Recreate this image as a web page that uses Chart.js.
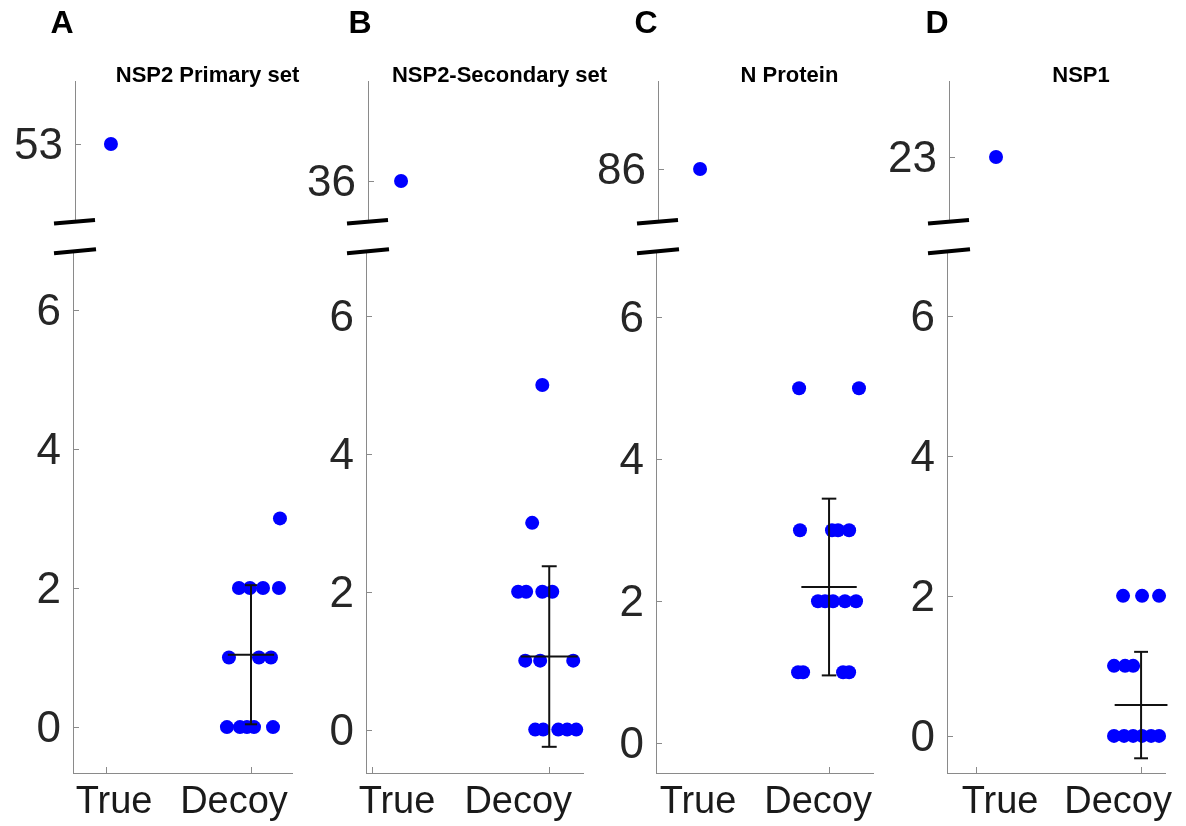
<!DOCTYPE html>
<html>
<head>
<meta charset="utf-8">
<script src="https://cdn.jsdelivr.net/npm/chart.js@4.4.1/dist/chart.umd.min.js"></script>
<style>
  html, body { margin: 0; padding: 0; background: #fff; }
  #wrap { position: relative; width: 1186px; height: 826px; overflow: hidden; background: #fff; }
  #wrap canvas { position: absolute; }
</style>
</head>
<body>
<div id="wrap"></div>
<script>
// ---------------- DATA ----------------
const categories = ['True', 'Decoy'];
const panelLetters = ['A', 'B', 'C', 'D'];
const panelTitles = ['NSP2 Primary set', 'NSP2-Secondary set', 'N Protein', 'NSP1'];

// value of the single "True" point per panel (upper, broken-axis segment) and its jittered x
const trueValues = [53, 36, 86, 23];
const trueX = [1.02, 1.155, 1.243, 1.109];

// Decoy points (value, jittered x) per panel
const decoyA  = [3, 2, 2, 2, 2, 1, 1, 1, 0, 0, 0, 0, 0];
const decoyAx = [2.200, 1.917, 1.993, 2.083, 2.193, 1.848, 2.055, 2.138, 1.834, 1.924, 1.972, 2.021, 2.152];
const decoyB  = [5, 3, 2, 2, 2, 2, 1, 1, 1, 0, 0, 0, 0, 0];
const decoyBx = [1.961, 1.904, 1.825, 1.870, 1.961, 2.017, 1.865, 1.949, 2.135, 1.921, 1.966, 2.051, 2.101, 2.152];
const decoyC  = [5, 5, 3, 3, 3, 3, 2, 2, 2, 2, 2, 1, 1, 1, 1];
const decoyCx = [1.827, 2.173, 1.832, 2.017, 2.052, 2.116, 1.936, 1.977, 2.023, 2.092, 2.156, 1.821, 1.850, 2.081, 2.116];
const decoyD  = [2, 2, 2, 1, 1, 1, 0, 0, 0, 0, 0, 0];
const decoyDx = [1.891, 2.006, 2.109, 1.836, 1.903, 1.952, 1.836, 1.897, 1.952, 2.006, 2.061, 2.109];

// mean and standard deviation drawn as the error bar on the Decoy column
const decoyMean = [1.04, 1.06, 2.2, 0.44];
const decoySD   = [1.0, 1.31, 1.245, 0.76];

// tick labels of the lower segment
const lowerTicks = [0, 2, 4, 6];

// ---------------- LAYOUT / STYLE ----------------
const axisLeft  = [73, 366, 656, 947];
const axisRight = [292, 583, 873, 1165];
const lowerRange = [[-0.66, 6.83], [-0.63, 6.93], [-0.42, 6.92], [-0.53, 6.91]];
const upperRange = [[47.5, 57.5], [33.14, 43.14], [82.29, 92.29], [18.43, 28.43]];
const xRange = [[0.772, 2.283], [0.969, 2.19], [1.0, 2.254], [0.824, 2.145]];
const labelShift = [[8, -17], [25.5, -31], [42, -11], [24, -23]];
const letterShift = [-13, -8, -12, -12];

const LOWER_TOP = 252, AXIS_BOTTOM = 773, UPPER_TOP = 81, UPPER_BOTTOM = 221;
const UPPER_SHIFT = 2;
const AXIS_COLOR = '#8a8a8a';
const FONT = '"Liberation Sans", Arial, Helvetica, sans-serif';
const CAP = 0.042, MEANW = 0.16;

const decoys = [[decoyA, decoyAx], [decoyB, decoyBx], [decoyC, decoyCx], [decoyD, decoyDx]];
const wrap = document.getElementById('wrap');

function makeCanvas(left, top, w, h) {
  const c = document.createElement('canvas');
  c.width = w; c.height = h;
  c.style.left = left + 'px'; c.style.top = top + 'px';
  c.style.width = w + 'px'; c.style.height = h + 'px';
  wrap.appendChild(c);
  return c;
}

function breakMark(ctx, x0, y0, x1, y1) {
  ctx.save();
  ctx.strokeStyle = '#000';
  ctx.lineWidth = 4;
  ctx.lineCap = 'butt';
  ctx.beginPath();
  ctx.moveTo(x0, y0);
  ctx.lineTo(x1, y1);
  ctx.stroke();
  ctx.restore();
}

const decoPlugin = {
  id: 'deco',
  afterDraw(chart, args, opts) {
    const ctx = chart.ctx, ca = chart.chartArea, i = opts.panel;
    const ys = chart.scales.y, xs = chart.scales.x;
    ctx.save();
    // inward tick marks (MATLAB style)
    ctx.strokeStyle = AXIS_COLOR;
    ctx.lineWidth = 1;
    ys.ticks.forEach(t => {
      const py = Math.round(ys.getPixelForValue(t.value)) + 0.5;
      ctx.beginPath(); ctx.moveTo(ca.left, py); ctx.lineTo(ca.left + 6, py); ctx.stroke();
    });
    if (opts.kind === 'lower') {
      xs.ticks.forEach(t => {
        const px = Math.round(xs.getPixelForValue(t.value)) + 0.5;
        ctx.beginPath(); ctx.moveTo(px, ca.bottom); ctx.lineTo(px, ca.bottom - 6); ctx.stroke();
      });
      ctx.fillStyle = '#1a1a1a';
      ctx.font = '38px ' + FONT;
      ctx.textAlign = 'center';
      ctx.textBaseline = 'alphabetic';
      categories.forEach((c, k) => {
        ctx.fillText(c, xs.getPixelForValue(k + 1) + labelShift[i][k], ca.bottom + 40);
      });
      breakMark(ctx, ca.left - 19, ca.top + 1.3, ca.left + 23, ca.top - 2.7);
    } else {
      ctx.fillStyle = '#000';
      ctx.textAlign = 'center';
      ctx.textBaseline = 'middle';
      ctx.font = 'bold 32px ' + FONT;
      ctx.fillText(panelLetters[i], ca.left + letterShift[i], 24);
      ctx.font = 'bold 22px ' + FONT;
      ctx.fillText(panelTitles[i], (ca.left + ca.right) / 2 + 23, 76);
      breakMark(ctx, ca.left - 21, ca.bottom + 2.5, ca.left + 20, ca.bottom - 1);
    }
    ctx.restore();
  }
};

function segment(pts) {
  return {
    data: pts, showLine: true, borderColor: '#111', borderWidth: 2,
    pointRadius: 0, fill: false, clip: false, order: 0
  };
}

function errorBarSets(i) {
  const m = decoyMean[i], s = decoySD[i];
  const cx = categories.indexOf('Decoy') + 1;
  return [
    segment([{x: cx, y: m - s}, {x: cx, y: m + s}]),
    segment([{x: cx - CAP, y: m + s}, {x: cx + CAP, y: m + s}]),
    segment([{x: cx - CAP, y: m - s}, {x: cx + CAP, y: m - s}]),
    segment([{x: cx - MEANW, y: m}, {x: cx + MEANW, y: m}])
  ];
}

function pointSet(pts) {
  return {
    data: pts, showLine: false, backgroundColor: '#0000ff', borderColor: '#0000ff',
    borderWidth: 0, pointRadius: 7, clip: false, order: 1
  };
}

function yAxis(range, tickVals, width) {
  return {
    type: 'linear', min: range[0], max: range[1],
    afterBuildTicks: s => { s.ticks = tickVals.map(v => ({value: v})); },
    afterFit: s => { s.width = width; },
    ticks: { font: {family: FONT, size: 44}, color: '#262626', padding: 12, labelOffset: 3, autoSkip: false },
    grid: { display: true, drawOnChartArea: false, drawTicks: false },
    border: { display: true, color: AXIS_COLOR, width: 1 }
  };
}

const common = {
  responsive: false, animation: false, devicePixelRatio: 1, events: []
};

for (let i = 0; i < 4; i++) {
  const L = axisLeft[i], R = axisRight[i];

  // ----- lower segment -----
  const lLeft = L - 75, lTop = 190, lW = R - lLeft + 25, lH = 826 - lTop;
  const lc = makeCanvas(lLeft, lTop, lW, lH);
  const [vals, xs] = decoys[i];
  new Chart(lc, {
    type: 'scatter',
    data: { datasets: [...errorBarSets(i), pointSet(vals.map((v, k) => ({x: xs[k], y: v})))] },
    options: Object.assign({}, common, {
      layout: { padding: { top: LOWER_TOP - lTop, right: 25, left: 0, bottom: 0 } },
      plugins: { legend: {display: false}, tooltip: {enabled: false}, title: {display: false},
                 deco: { kind: 'lower', panel: i } },
      scales: {
        x: {
          type: 'linear', min: xRange[i][0], max: xRange[i][1],
          afterBuildTicks: s => { s.ticks = categories.map((c, k) => ({value: k + 1})); },
          afterFit: s => { s.height = 826 - AXIS_BOTTOM; },
          ticks: { display: false },
          grid: { display: true, drawOnChartArea: false, drawTicks: false },
          border: { display: true, color: AXIS_COLOR, width: 1 }
        },
        y: yAxis(lowerRange[i], lowerTicks, 75)
      }
    }),
    plugins: [decoPlugin]
  });

  // ----- upper segment -----
  const uL = L + UPPER_SHIFT, uR = R + UPPER_SHIFT;
  const uLeft = uL - 75, uTop = 0, uW = uR - uLeft + 45, uH = 270;
  const uc = makeCanvas(uLeft, uTop, uW, uH);
  new Chart(uc, {
    type: 'scatter',
    data: { datasets: [pointSet([{x: trueX[i], y: trueValues[i]}])] },
    options: Object.assign({}, common, {
      layout: { padding: { top: UPPER_TOP, right: 45, left: 0, bottom: uH - UPPER_BOTTOM } },
      plugins: { legend: {display: false}, tooltip: {enabled: false}, title: {display: false},
                 deco: { kind: 'upper', panel: i } },
      scales: {
        x: { type: 'linear', display: false, min: xRange[i][0], max: xRange[i][1] },
        y: yAxis(upperRange[i], [trueValues[i]], 75)
      }
    }),
    plugins: [decoPlugin]
  });
}
</script>
</body>
</html>
